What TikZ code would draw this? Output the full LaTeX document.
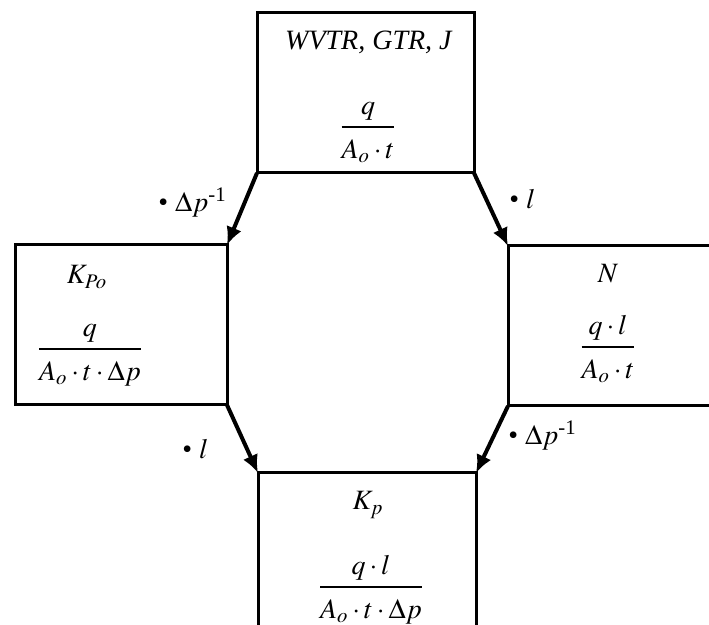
\documentclass[tikz,border=0pt]{standalone}
\usepackage{amsmath}
\usepackage{mathptmx}
\usepackage{fontspec}
\setmainfont{Liberation Serif}
\usetikzlibrary{arrows.meta,positioning}
\tikzset{
  fluxbox/.style={rectangle,draw=black,line width=1.5pt,minimum height=80pt,
    inner sep=0pt,outer sep=0pt,anchor=north west},
  fluxtext/.style={inner sep=0pt,font=\fontsize{14}{17}\selectfont,anchor=base},
  fluxlabel/.style={inner sep=0pt,font=\fontsize{14}{17}\selectfont,anchor=base west},
  fluxarrow/.style={-{Latex[length=9pt,width=8pt]},line width=2pt}
}
\newcommand{\fluxfrac}[2]{\genfrac{}{}{0.9pt}{0}{#1}{\rule{0pt}{12.5pt}#2}}

\begin{document}
\begin{tikzpicture}[x=0.5pt,y=-0.5pt]
  \useasboundingbox (0,0) rectangle (709,625);
  \node[fluxbox, minimum width=108.5pt] (flux) at (257,13) {};
  \node[fluxbox, minimum width=106pt] (perm) at (15,245) {};
  \node[fluxbox, minimum width=106pt] (rate) at (508,246) {};
  \node[fluxbox, minimum width=109pt] (coef) at (258,473) {};
  \node[fluxtext] (fluxname) at (369,50) {\textit{WVTR, GTR, J}};
  \node[fluxtext] (fluxeq) at (368,134) {$\fluxfrac{q}{A_{o}\cdot t}$};
  \node[fluxtext] (permname) at (87,284) {$K_{Po}$};
  \node[fluxtext] (permeq) at (90,356) {$\fluxfrac{q}{A_{o}\cdot t\cdot\Delta p}$};
  \node[fluxtext] (ratename) at (608,283) {$N$};
  \node[fluxtext] (rateeq) at (608,354) {$\fluxfrac{q\cdot l}{A_{o}\cdot t}$};
  \node[fluxtext] (coefname) at (368,510) {$K_{p}$};
  \node[fluxtext] (coefeq) at (371,594) {$\fluxfrac{q\cdot l}{A_{o}\cdot t\cdot\Delta p}$};
  \draw[fluxarrow] (flux.south west) -- (perm.north east);
  \draw[fluxarrow] (flux.south east) -- (rate.north west);
  \draw[fluxarrow] (perm.south east) -- (coef.north west);
  \draw[fluxarrow] (rate.south west) -- (coef.north east);
  \node[fluxlabel] (permlabel) at (158,212) {• $\Delta p^{\text{-1}}$};
  \node[fluxlabel] (ratelabel) at (509,209) {• $l$};
  \node[fluxlabel] (coeflabel) at (182,459) {• $l$};
  \node[fluxlabel] (dplabel) at (508,445) {• $\Delta p^{\text{-1}}$};
\end{tikzpicture}
\end{document}
